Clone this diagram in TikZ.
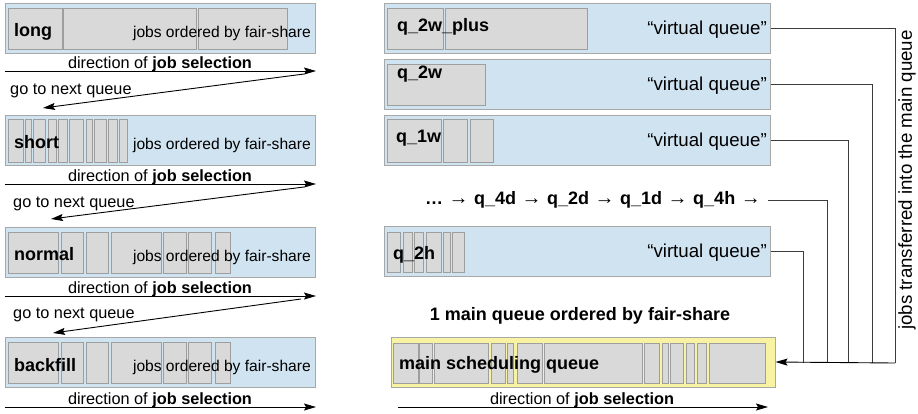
\documentclass[tikz,border=0pt]{standalone}
\usepackage{fontspec}
\setmainfont{Liberation Sans}
\usetikzlibrary{arrows.meta}
\definecolor{qblue}{RGB}{208,227,241}
\definecolor{qedge}{RGB}{168,168,168}
\definecolor{jobfill}{RGB}{217,217,217}
\definecolor{jobedge}{RGB}{158,158,158}
\definecolor{mainyellow}{RGB}{247,243,163}
\definecolor{connline}{RGB}{60,60,60}
\tikzset{
  qbox/.style={draw=qedge, fill=qblue, line width=1pt, minimum height=50pt, inner sep=0pt},
  mainbox/.style={draw=qedge, fill=mainyellow, line width=1pt, inner sep=0pt},
  jobcell/.style={draw=jobedge, fill=jobfill, line width=0.9pt},
  qname/.style={inner sep=0pt, font=\fontsize{18}{20}\selectfont\bfseries},
  jobtxt/.style={inner sep=0pt, font=\fontsize{15.6}{18}\selectfont},
  dirtxt/.style={inner sep=0pt, font=\fontsize{16.3}{18}\selectfont},
  vtxt/.style={inner sep=0pt, font=\fontsize{18.7}{20}\selectfont},
  seltip/.style={-{Stealth[length=12pt,width=7pt,inset=2pt]}, line width=0.9pt, black},
  conn/.style={line width=0.9pt, connline},
}
\newcommand\seqarrow{\hspace{5.5pt}{\mdseries\fontsize{20}{20}\selectfont→}\hspace{5.5pt}}
\begin{document}
\begin{tikzpicture}[x=1pt,y=-1pt]
\useasboundingbox (0,0) rectangle (918,413);

% ---------------- left column: the four queues ----------------
\node[qbox, minimum width=310pt] (long)     at (160,28)  {};
\node[qbox, minimum width=310pt] (short)    at (160,140) {};
\node[qbox, minimum width=310pt] (normal)   at (160,252) {};
\node[qbox, minimum width=310pt] (backfill) at (160,362.5) {};

% jobs waiting in each queue
\foreach \a/\b in {8/62,63/196,198/287}
  \draw[jobcell] (\a,8) rectangle (\b,49);
\foreach \a/\b in {8/23,25/31,33/45,48/56,58/67,69/83,86/92,94/106,108/117,119/127}
  \draw[jobcell] (\a,119) rectangle (\b,162);
\foreach \a/\b in {8/58,61/83,86/108,111/161,163/186,188/211,215/230}{
  \draw[jobcell] (\a,232) rectangle (\b,273);
  \draw[jobcell] (\a,342) rectangle (\b,383);
}

\node[qname, anchor=base west] (longlab)     at (14,36)  {long};
\node[qname, anchor=base west] (shortlab)    at (14,148) {short};
\node[qname, anchor=base west] (normallab)   at (14,260) {normal};
\node[qname, anchor=base west] (backfilllab) at (14,371) {backfill};

\node[jobtxt, anchor=base east] (longjobs)     at (311,37)  {jobs ordered by fair-share};
\node[jobtxt, anchor=base east] (shortjobs)    at (311,149) {jobs ordered by fair-share};
\node[jobtxt, anchor=base east] (normaljobs)   at (311,261) {jobs ordered by fair-share};
\node[jobtxt, anchor=base east] (backfilljobs) at (311,371) {jobs ordered by fair-share};

% direction of job selection under each queue
\node[dirtxt, anchor=base] (dir1) at (160,68)  {direction of \textbf{job selection}};
\node[dirtxt, anchor=base] (dir2) at (160,181) {direction of \textbf{job selection}};
\node[dirtxt, anchor=base] (dir3) at (160,293) {direction of \textbf{job selection}};
\node[dirtxt, anchor=base] (dir4) at (160,404) {direction of \textbf{job selection}};

\coordinate (s1a) at (5,71);   \coordinate (s1b) at (316,71);
\coordinate (s2a) at (5,184);  \coordinate (s2b) at (316,184);
\coordinate (s3a) at (5,296);  \coordinate (s3b) at (316,296);
\coordinate (s4a) at (5,407);  \coordinate (s4b) at (316,407);
\draw[seltip] (s1a) -- (s1b);
\draw[seltip] (s2a) -- (s2b);
\draw[seltip] (s3a) -- (s3b);
\draw[seltip] (s4a) -- (s4b);

% moving on to the next queue
\node[dirtxt, anchor=base west] (next1) at (10,94)  {go to next queue};
\node[dirtxt, anchor=base west] (next2) at (13,207) {go to next queue};
\node[dirtxt, anchor=base west] (next3) at (13,318) {go to next queue};

\coordinate (n1a) at (304,74);  \coordinate (n1b) at (43,108);
\coordinate (n2a) at (304,187); \coordinate (n2b) at (51,219);
\coordinate (n3a) at (301,299); \coordinate (n3b) at (53,333);
\draw[seltip] (n1a) -- (n1b);
\draw[seltip] (n2a) -- (n2b);
\draw[seltip] (n3a) -- (n3b);

% ---------------- right column: virtual queues ----------------
\node[qbox, minimum width=386pt] (q2wplus) at (577,28)    {};
\node[qbox, minimum width=386pt] (q2w)     at (577,84)    {};
\node[qbox, minimum width=386pt] (q1w)     at (577,140)   {};
\node[qbox, minimum width=386pt] (q2h)     at (577,251.5) {};

\foreach \a/\b in {387/443,445/587}
  \draw[jobcell] (\a,8) rectangle (\b,49);
\draw[jobcell] (387,64) rectangle (485,105);
\foreach \a/\b in {387/441,443/467,470/493}
  \draw[jobcell] (\a,119) rectangle (\b,162);
\foreach \a/\b in {387/400,403/412,414/423,426/441,443/450,452/464}
  \draw[jobcell] (\a,232) rectangle (\b,272);

\node[qname, anchor=base west] (q2wpluslab) at (397,31)  {q\_2w\_plus};
\node[qname, anchor=base west] (q2wlab)     at (397,78)  {q\_2w};
\node[qname, anchor=base west] (q1wlab)     at (396,142) {q\_1w};
\node[qname, anchor=base west] (q2hlab)     at (393,259) {q\_2h};

\node[vtxt, anchor=base east] (v1) at (767,34)  {“virtual queue”};
\node[vtxt, anchor=base east] (v2) at (767,90)  {“virtual queue”};
\node[vtxt, anchor=base east] (v3) at (767,146) {“virtual queue”};
\node[vtxt, anchor=base east] (v4) at (767,257) {“virtual queue”};

\node[qname, anchor=base west] (seq) at (425,204)
  {…\seqarrow q\_4d\seqarrow q\_2d\seqarrow q\_1d\seqarrow q\_4h\seqarrow};
\coordinate (seqout) at (768,200);

% ---------------- main scheduling queue ----------------
\node[qname, anchor=base] (mainhead) at (580,320) {1 main queue ordered by fair-share};
\node[mainbox, minimum width=384pt, minimum height=50pt] (main) at (583,362) {};
\foreach \a/\b in {393/418,419/432,434/488,491/505,507/513,517/542,544/642,644/659,662/668,670/683,686/694,697/706,709/765}
  \draw[jobcell] (\a,343) rectangle (\b,383);
\node[qname, anchor=base west] (mainlab) at (399,369) {main scheduling queue};

\node[dirtxt, anchor=base] (dir5) at (582,404) {direction of \textbf{job selection}};
\coordinate (s5a) at (398,407); \coordinate (s5b) at (768,407);
\draw[seltip] (s5a) -- (s5b);

% transfers into the main queue
\coordinate (j1) at (895,363);
\coordinate (j2) at (872,363);
\coordinate (j3) at (848,363);
\coordinate (j4) at (827,363);
\coordinate (j5) at (803,363);
\draw[conn] (q2wplus.east) -| (j1);
\draw[conn] (q2w.east) -| (j2);
\draw[conn] (q1w.east) -| (j3);
\draw[conn] (seqout) -| (j4);
\draw[conn] (q2h.east) -| (j5);
\draw[seltip] (j1) -- (main.east);

\node[vtxt, rotate=90] (transfer) at (907,180) {jobs transferred into the main queue};
\end{tikzpicture}
\end{document}
